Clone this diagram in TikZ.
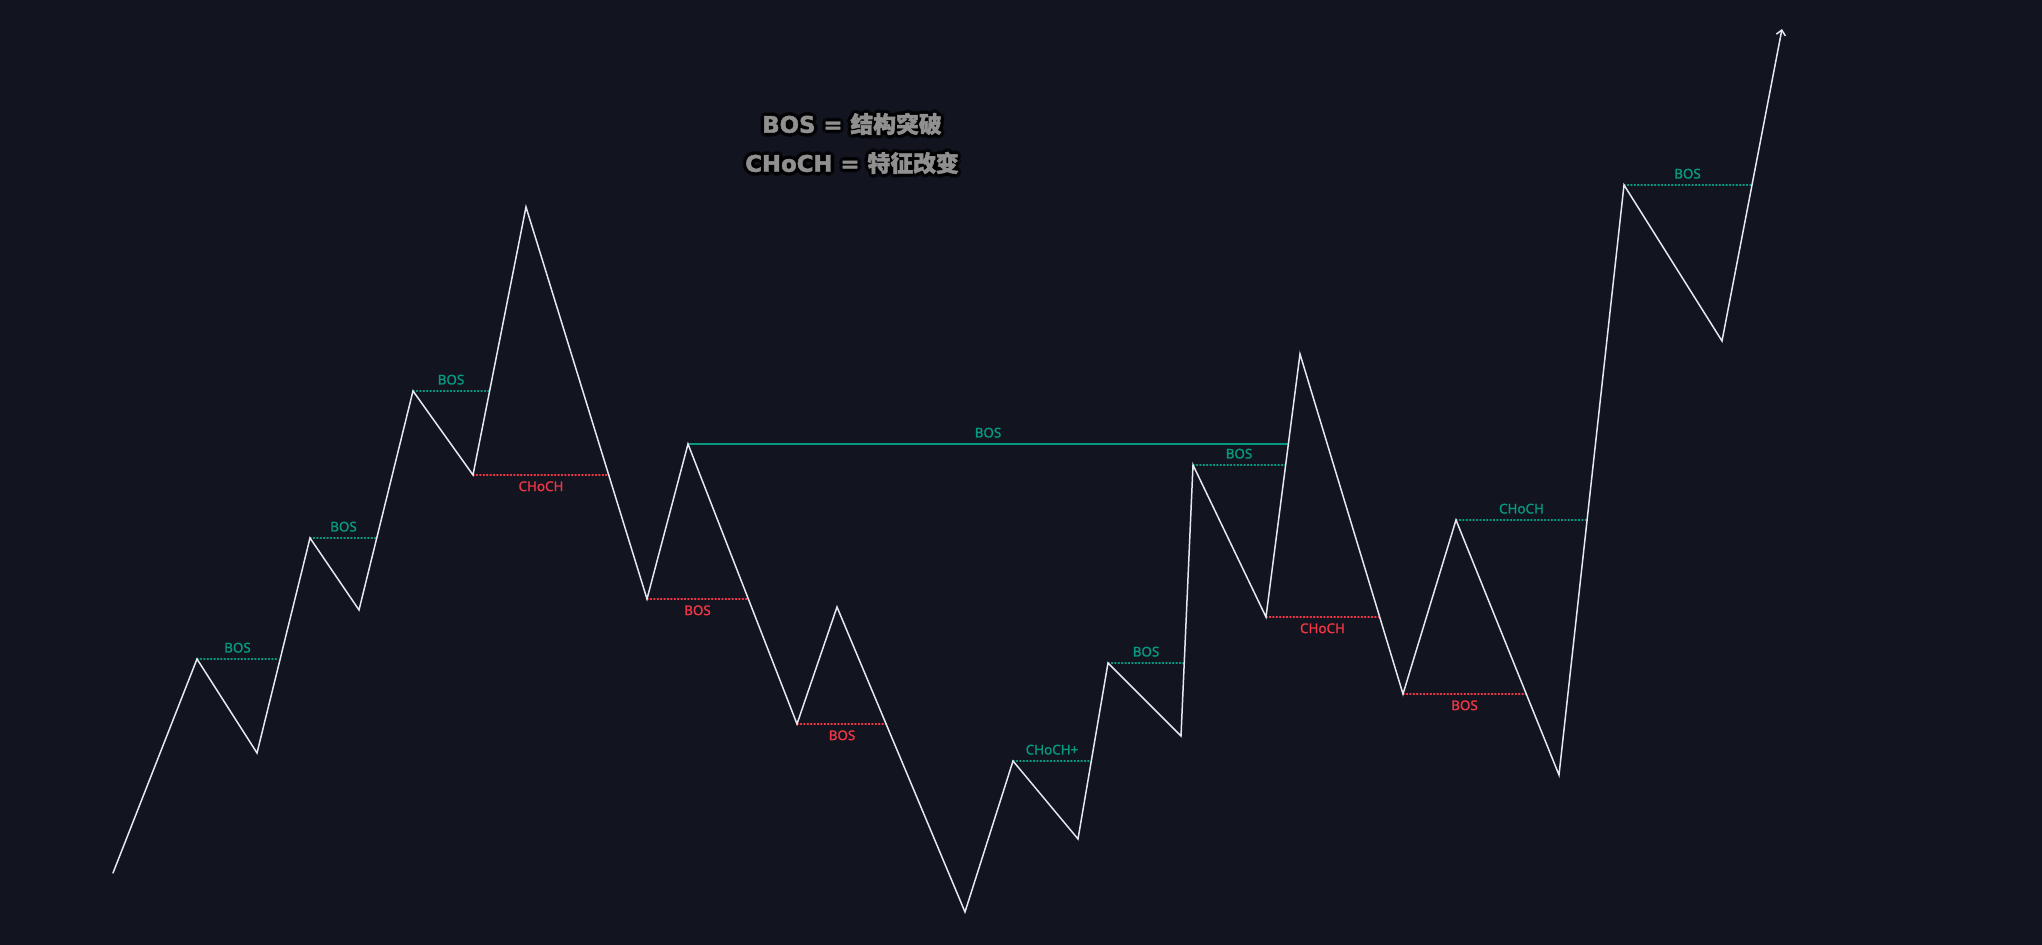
\documentclass[tikz,border=0pt]{standalone}
\usepackage{tkz-euclide}
\usepackage{fontspec}
\setmainfont{Noto Sans}[FakeBold=1.2]
\newfontfamily\cjk{Noto Sans CJK SC}[FakeBold=2]
\newfontfamily\heavy{DejaVu Sans}[FakeBold=2]
\usetikzlibrary{arrows.meta}
\definecolor{bg}{HTML}{121520}
\definecolor{zig}{HTML}{E6E8EE}
\definecolor{upc}{HTML}{089981}
\definecolor{dnc}{HTML}{F23645}
\definecolor{ttl}{HTML}{909090}
\tikzset{
  lvl/.style={line width=0.6pt, dash pattern=on 0.6pt off 1.1pt},
  lvlup/.style={lvl, color=upc},
  lvldn/.style={lvl, color=dnc},
  tag/.style={font=\fontsize{6.7}{7}\selectfont\bfseries, inner sep=3pt},
  tagup/.style={tag, above, text=upc},
  tagdn/.style={tag, below, text=dnc},
  ttlnode/.style={font=\fontsize{11.4}{12}\selectfont\bfseries, text=ttl, inner sep=0pt},
  glow/.style={ttlnode, text=black, opacity=.55},
}

\begin{document}
\begin{tikzpicture}[x=0.5pt,y=0.5pt]
    \fill[bg] (0,0) rectangle (2042,945);
    \tkzDefPoints{113/72/P0,197/286/P1,257/192/P2,310/407/P3,359/335/P4,413/554/P5,
      473/470/P6,526/738/P7,647/346/P8,688/501/P9,797/221/P10,837/338/P11,965/33/P12,
      1013/184/P13,1078/106/P14,1108/282/P15,1181/209/P16,1193/480/P17,1266/328/P18,
      1300/591/P19,1403/251/P20,1456/425/P21,1559/170/P22,1624/760/P23,1722/604/P24,
      1782/916/P25}
    \tkzDefPoints{278/286/E1,377/407/E3,489/554/E5,609/470/E6,748/346/E8,1288/501/E9,
      887/221/E10,1091/184/E13,1184/282/E15,1285/480/E17,1379/328/E18,1526/251/E20,
      1587/425/E21,1751/760/E23}
    \tkzDefPoints{852/821/T1,852/782/T2}
    \tkzDrawSegment[color=upc, line width=0.75pt](P9,E9)
    \tkzDrawSegments[lvlup](P1,E1 P3,E3 P5,E5 P13,E13 P15,E15 P17,E17 P21,E21 P23,E23)
    \tkzDrawSegments[lvldn](P6,E6 P8,E8 P10,E10 P18,E18 P20,E20)
    \tkzDrawPolySeg[color=zig, line width=0.75pt, -{Straight Barb[length=2.5pt,width=4.6pt]}](P0,P1,P2,P3,P4,P5,P6,P7,P8,P9,P10,P11,P12,P13,P14,P15,P16,P17,P18,P19,P20,P21,P22,P23,P24,P25)
    \tkzLabelSegment[tagup](P1,E1){BOS}
    \tkzLabelSegment[tagup](P3,E3){BOS}
    \tkzLabelSegment[tagup](P5,E5){BOS}
    \tkzLabelSegment[tagdn](P6,E6){CHoCH}
    \tkzLabelSegment[tagdn](P8,E8){BOS}
    \tkzLabelSegment[tagup](P9,E9){BOS}
    \tkzLabelSegment[tagdn](P10,E10){BOS}
    \tkzLabelSegment[tagup](P13,E13){CHoCH+}
    \tkzLabelSegment[tagup](P15,E15){BOS}
    \tkzLabelSegment[tagup](P17,E17){BOS}
    \tkzLabelSegment[tagdn](P18,E18){CHoCH}
    \tkzLabelSegment[tagdn](P20,E20){BOS}
    \tkzLabelSegment[tagup](P21,E21){CHoCH}
    \tkzLabelSegment[tagup](P23,E23){BOS}
    \foreach \a in {0,45,...,315}{
      \node[glow] (ga\a) at ([shift={(\a:1.8pt)}]T1) {{\heavy BOS = }{\cjk 结构突破}};
      \node[glow] (gb\a) at ([shift={(\a:1.8pt)}]T2) {{\heavy CHoCH = }{\cjk 特征改变}};
    }
    \node[ttlnode] (ta) at (T1) {{\heavy BOS = }{\cjk 结构突破}};
    \node[ttlnode] (tb) at (T2) {{\heavy CHoCH = }{\cjk 特征改变}};
\end{tikzpicture}
\end{document}
